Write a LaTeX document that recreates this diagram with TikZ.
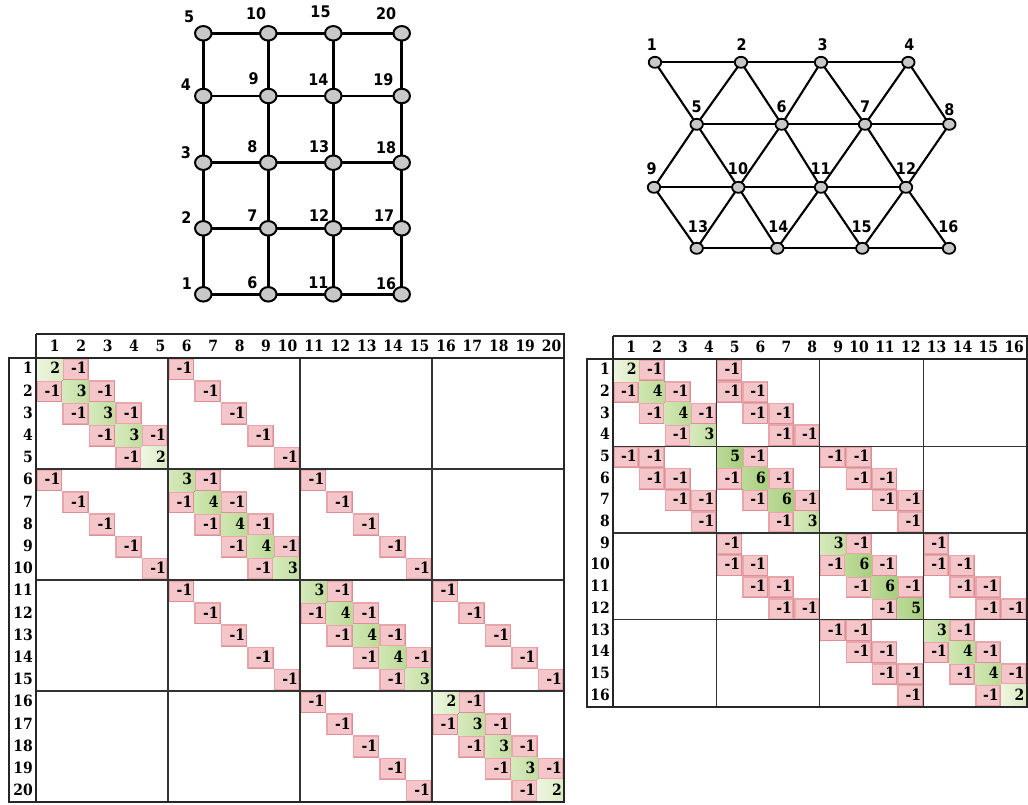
\documentclass[tikz,border=0pt]{standalone}
\usepackage{fontspec}
\setmainfont{Liberation Serif}
\newfontfamily\lblfont{DejaVu Sans Condensed}
\newfontfamily\numfont{DejaVu Serif Condensed}
\usetikzlibrary{shapes.geometric,calc}
\definecolor{pk}{HTML}{F4C6C9}
\definecolor{pkedge}{HTML}{E8A6AB}
\definecolor{pkdark}{HTML}{DA9096}
\definecolor{gnode}{HTML}{C8C8C8}
\definecolor{gA}{HTML}{EEF5E0}\definecolor{gB}{HTML}{DAEBC2}
\definecolor{gC}{HTML}{D6E9BC}\definecolor{gD}{HTML}{C2DDA0}
\definecolor{gE}{HTML}{CFE6B2}\definecolor{gF}{HTML}{BCDA96}
\definecolor{gG}{HTML}{BCDA98}\definecolor{gH}{HTML}{A6CE7C}
\tikzset{
  gedge/.style={line width=2.5pt, black},
  tedge/.style={line width=2.1pt, black},
  gridnode/.style={ellipse, draw=black, line width=2pt, fill=gnode, minimum width=16.5pt, minimum height=14.5pt, inner sep=0pt},
  trinode/.style={ellipse, draw=black, line width=1.8pt, fill=gnode, minimum width=12.5pt, minimum height=11pt, inner sep=0pt},
  glabel/.style={font=\lblfont\bfseries\fontsize{16}{16}\selectfont, inner sep=0pt},
  num/.style={font=\numfont\bfseries\fontsize{15.5}{15.5}\selectfont, inner sep=0pt},
  frame/.style={line width=2pt, draw=black!85},
  divider/.style={line width=1.2pt, draw=black!80},
  diag2/.style={left color=gA, right color=gB},
  diag3/.style={left color=gC, right color=gD},
  diag4/.style={left color=gE, right color=gF},
  diag5/.style={left color=gG, right color=gH},
  diag6/.style={left color=gG, right color=gH},
}
\newcommand\cellxy[2]{%
  \pgfmathsetmacro\cx{\mxo+(#2-1)*\mcw}%
  \pgfmathsetmacro\cy{\myo+(#1-1)*\mrh}%
  \pgfmathsetmacro\cxe{\cx+\mcw}%
  \pgfmathsetmacro\cye{\cy+\mrh}%
}
\newcommand\negcell[2]{%
  \cellxy{#1}{#2}%
  \fill[pkedge] (\cx,\cy) rectangle (\cxe,\cye);
  \fill[pk] (\cx+1.6,\cy+1.6) rectangle (\cxe-1.6,\cye-1.6);
  \draw[pkdark, line width=1pt] (\cx+0.5,\cye-0.5) -- (\cxe-0.5,\cye-0.5) -- (\cxe-0.5,\cy+0.5);
  \node[num, anchor=base east] (\mname-#1-#2) at (\cxe-2,\cye-6.4) {-1};
}
\newcommand\diagcell[2]{%
  \cellxy{#1}{#1}%
  \fill[diag#2] (\cx,\cy) rectangle (\cxe,\cye);
  \node[num, anchor=base east] (\mname-#1-#1) at (\cxe-2,\cye-6.4) {#2};
}
\def\gridedges{1/2,2/3,3/4,4/5,6/7,7/8,8/9,9/10,11/12,12/13,13/14,14/15,16/17,17/18,18/19,19/20,1/6,2/7,3/8,4/9,5/10,6/11,7/12,8/13,9/14,10/15,11/16,12/17,13/18,14/19,15/20}
\def\griddeg{1/2,2/3,3/3,4/3,5/2,6/3,7/4,8/4,9/4,10/3,11/3,12/4,13/4,14/4,15/3,16/2,17/3,18/3,19/3,20/2}
\def\triedges{1/2,2/3,3/4,5/6,6/7,7/8,9/10,10/11,11/12,13/14,14/15,15/16,1/5,2/5,2/6,3/6,3/7,4/7,4/8,5/9,5/10,6/10,6/11,7/11,7/12,8/12,9/13,10/13,10/14,11/14,11/15,12/15,12/16}
\def\trideg{1/2,2/4,3/4,4/3,5/5,6/6,7/6,8/3,9/3,10/6,11/6,12/5,13/3,14/4,15/4,16/2}
\begin{document}
\begin{tikzpicture}[x=1pt,y=-1pt]
\useasboundingbox[fill=white] (0,0) rectangle (1028,804);
% ---------- grid graph ----------
\foreach \n/\x/\y in {1/203.3/294.3,2/203.3/228.3,3/203.3/162.7,4/203.3/96,5/203.3/33.3,
  6/268.3/294.3,7/268.3/228.3,8/268.3/162.7,9/268.3/96,10/268.3/33.3,
  11/333.3/294.3,12/333.3/228.3,13/333.3/162.7,14/333.3/96,15/333.3/33.3,
  16/401.7/294.3,17/401.7/228.3,18/401.7/162.7,19/401.7/96,20/401.7/33.3}
  \coordinate (gc\n) at (\x,\y);
\foreach \a/\b in \gridedges \draw[gedge] (gc\a) -- (gc\b);
\foreach \n in {1,...,20} \node[gridnode] (g\n) at (gc\n) {};
\foreach \n/\x/\y in {5/189.2/16.3,4/185.8/84.7,3/185.8/152.8,2/186.5/218,1/187/283.3,
  10/256.2/13.8,9/253.7/78.3,8/252.5/146.7,7/252.5/215.8,6/252.5/282.3,
  15/320.5/11.7,14/318.3/80,13/319.2/146.7,12/319.2/215.3,11/318.3/282.3,
  20/386.2/13.3,19/383.3/80,18/386.2/147.2,17/384.2/215.3,16/386.2/283.3}
  \node[glabel] (gl\n) at (\x,\y) {\n};
% ---------- triangular graph ----------
\foreach \n/\x/\y in {1/655/62.3,2/741/62.3,3/821/62.3,4/908.3/62.3,
  5/696.7/124.3,6/781.7/124.3,7/865/124.3,8/949.3/124.3,
  9/654/187.3,10/738.3/187.3,11/821/187.3,12/906/187.3,
  13/696.7/248.3,14/777.3/248.3,15/862.3/248.3,16/949/248.3}
  \coordinate (tc\n) at (\x,\y);
\foreach \a/\b in \triedges \draw[tedge] (tc\a) -- (tc\b);
\foreach \n in {1,...,16} \node[trinode] (t\n) at (tc\n) {};
\foreach \n/\x/\y in {1/652/45,2/741.7/45,3/822.7/45,4/909.3/45,
  5/696.7/106.7,6/781.7/106.7,7/865/106.7,8/949.3/110,
  9/651.7/168.3,10/738/168.3,11/820.7/168.3,12/906/168.3,
  13/698/226.7,14/778.3/226.7,15/861.7/226.7,16/948.3/226.7}
  \node[glabel] (tl\n) at (\x,\y) {\n};
% ---------- left matrix ----------
\def\mxo{36}\def\myo{358}\def\mcw{26.4}\def\mrh{22.2}\def\mname{L}
\foreach \a/\b in \gridedges {\negcell{\a}{\b}\negcell{\b}{\a}}
\foreach \i/\d in \griddeg {\diagcell{\i}{\d}}
\foreach \k in {1,...,20} {
  \node[num, anchor=base east] (Lh\k) at ({\mxo+\k*\mcw-2.5},351) {\k};
  \node[num, anchor=base east] (Lr\k) at (33,{\myo+\k*\mrh-6.4}) {\k};
}
\foreach \k in {5,10,15} {
  \draw[divider] ({\mxo+\k*\mcw},358) -- ({\mxo+\k*\mcw},802);
  \draw[divider] (36,{\myo+\k*\mrh}) -- (564,{\myo+\k*\mrh});
}
\draw[frame] (36,333.5) -- (564,333.5) -- (564,802) -- (9,802) -- (9,358) -- (564,358);
\draw[frame] (36,333.5) -- (36,802);
% ---------- right matrix ----------
\def\mxo{613}\def\myo{359.3}\def\mcw{25.85}\def\mrh{21.7}\def\mname{R}
\foreach \a/\b in \triedges {\negcell{\a}{\b}\negcell{\b}{\a}}
\foreach \i/\d in \trideg {\diagcell{\i}{\d}}
\foreach \k in {1,...,16} {
  \node[num, anchor=base east] (Rh\k) at ({\mxo+\k*\mcw-2.5},352.5) {\k};
  \node[num, anchor=base east] (Rr\k) at (610,{\myo+\k*\mrh-6.4}) {\k};
}
\foreach \k in {4,8,12} {
  \draw[divider] ({\mxo+\k*\mcw},359.3) -- ({\mxo+\k*\mcw},706.5);
  \draw[divider] (613,{\myo+\k*\mrh}) -- (1026.6,{\myo+\k*\mrh});
}
\draw[frame] (613,336) -- (1026.6,336) -- (1026.6,706.5) -- (587,706.5) -- (587,359.3) -- (1026.6,359.3);
\draw[frame] (613,336) -- (613,706.5);
\end{tikzpicture}
\end{document}
